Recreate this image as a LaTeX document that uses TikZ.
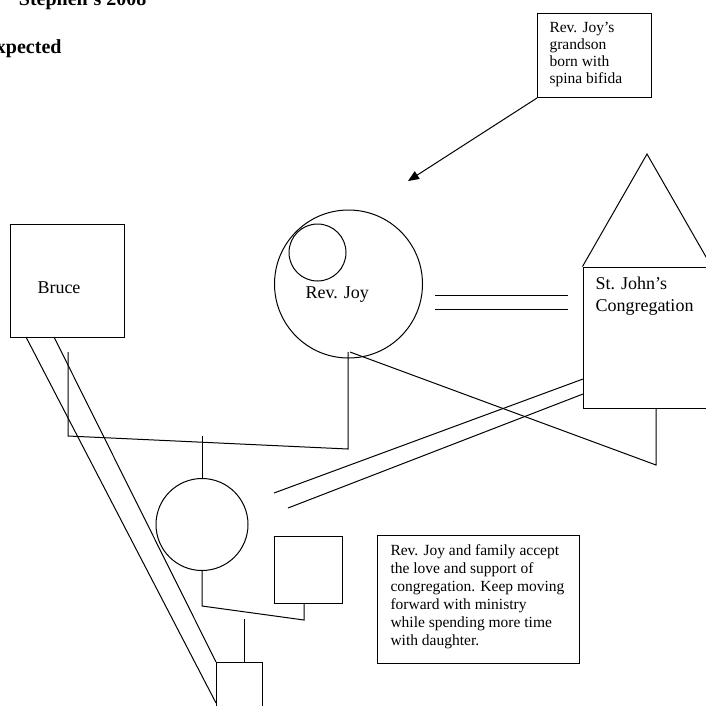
\documentclass[tikz,border=0pt]{standalone}
\usepackage{fontspec}
\setmainfont{Liberation Serif}
\usetikzlibrary{arrows.meta}

\begin{document}
\begin{tikzpicture}[
    x=1pt, y=-1pt,
    line width=1pt,
    person/.style={draw, inner sep=0pt},
    male/.style={person, rectangle},
    female/.style={person, circle},
    tag/.style={inner sep=0pt, font=\fontsize{18}{22}\selectfont, align=left},
    note/.style={inner sep=0pt, font=\fontsize{15.5}{17}\selectfont, align=left},
    notebox/.style={rectangle, draw, inner sep=0pt},
    heading/.style={inner sep=0pt, font=\fontsize{20}{24}\selectfont\bfseries},
    arrow/.style={-{Triangle[length=11pt, width=9pt]}}
  ]

    \useasboundingbox (0,0) rectangle (706,705);
    \clip (0,0) rectangle (706,705);

    % Heading (cut off at the page edge)
    \node[heading, anchor=base east] (head1) at (147,5) {Stephen’s 2008};
    \node[heading, anchor=base east] (head2) at (62,53) {xpected};

    % Grandson note
    \node[notebox, minimum width=114pt, minimum height=84pt, anchor=north west] (gbox) at (537,13) {};
    \node[note, anchor=north west] (gtext) at (549,22) {Rev. Joy’s\\grandson\\born with\\spina bifida};
    \coordinate (gtip) at (408,181);
    \draw[arrow] (gbox.south west) -- (gtip);

    % Bruce
    \node[male, minimum width=114pt, minimum height=113pt] (bruce) at (67,280.5) {};
    \node[tag, anchor=base west] (brucelbl) at (37,293) {Bruce};

    % Rev. Joy
    \node[female, minimum size=148pt] (joy) at (348.5,284) {};
    \node[female, minimum size=57pt] (grandson) at (317.5,252.5) {};
    \node[tag, anchor=base west] (joylbl) at (305,298) {Rev. Joy};

    % Congregation
    \node[male, minimum width=128pt, minimum height=141pt] (church) at (647,337.5) {};
    \coordinate (steeple) at (647,154);
    \draw (church.north west) -- (steeple) -- (church.north east);
    \node[tag, anchor=north west] (churchlbl) at (595,277) {St. John’s\\Congregation};

    % Daughter, husband and child
    \node[female, minimum size=92pt] (daughter) at (202,524.5) {};
    \node[male, minimum width=68pt, minimum height=67pt] (husband) at (308,569.5) {};
    \node[male, minimum width=46pt, minimum height=60pt, anchor=north west] (child) at (216,662) {};

    % Outcome note
    \node[notebox, minimum width=202pt, minimum height=128pt, anchor=north west] (obox) at (377,535) {};
    \node[note, font=\fontsize{15.5}{18}\selectfont, anchor=north west] (otext) at (390,544.5) {Rev. Joy and family accept\\the love and support of\\congregation. Keep moving\\forward with ministry\\while spending more time\\with daughter.};

    % Bruce -- Rev. Joy
    \coordinate (bm1) at (68,352);
    \coordinate (bm2) at (68,436);
    \coordinate (jm2) at (348,449);
    \coordinate (jm1) at (348,352);
    \draw (bm1) -- (bm2) -- (jm2) -- (jm1);
    \coordinate (dm) at (202,436);
    \draw (dm) -- (daughter.north);

    % Daughter -- husband, child
    \coordinate (dh1) at (202,606);
    \coordinate (dh2) at (304,620);
    \draw (daughter.south) -- (dh1) -- (dh2) -- (dh2 |- husband.south);
    \coordinate (cm) at (244,619);
    \draw (cm) -- (cm |- child.north);

    % Rev. Joy -- congregation, cut off
    \coordinate (jc1) at (350,352);
    \coordinate (jc2) at (656,465);
    \draw (jc1) -- (jc2) -- (jc2 |- church.south);

    % Rev. Joy = congregation
    \coordinate (jd1) at (435,295);
    \coordinate (jd2) at (435,309);
    \draw (jd1) -- (jd1 -| 568,0);
    \draw (jd2) -- (jd2 -| 568,0);

    % Congregation = daughter
    \coordinate (cd1) at (583,379);
    \coordinate (cd2) at (583,394);
    \coordinate (dc1) at (274,493);
    \coordinate (dc2) at (288,508);
    \draw (cd1) -- (dc1);
    \draw (cd2) -- (dc2);

    % Bruce = child
    \coordinate (bc1) at (26,337);
    \coordinate (bc2) at (54,337);
    \coordinate (cb1) at (216,703);
    \draw (bc1) -- (cb1);
    \draw (bc2) -- (child.north west);

  \end{tikzpicture}
\end{document}
